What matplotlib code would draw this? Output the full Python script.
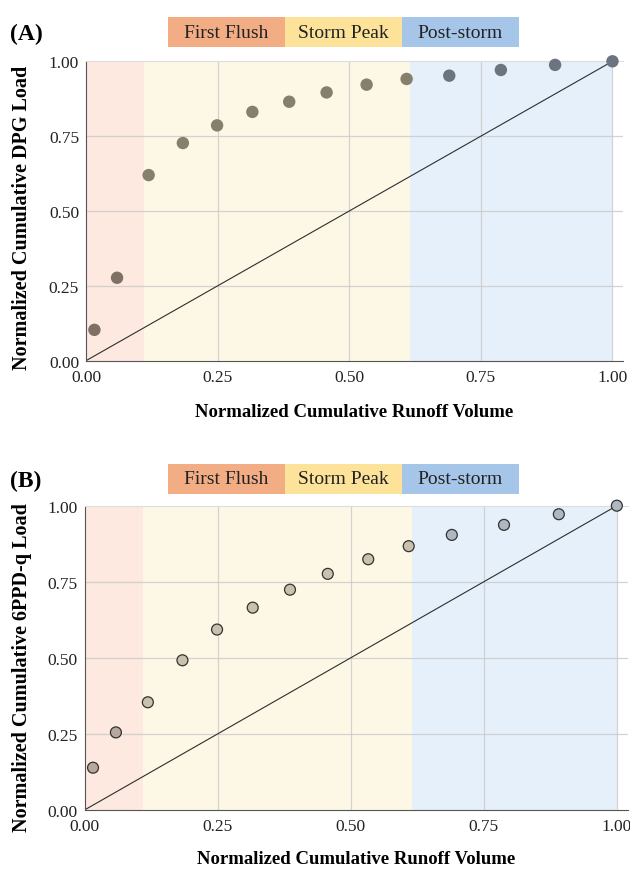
import matplotlib
matplotlib.use("Agg")
import matplotlib.pyplot as plt
from matplotlib.patches import Rectangle

plt.rcParams['font.family'] = ['Liberation Serif', 'DejaVu Serif']

# ---- data ----
runoff = [0.016, 0.059, 0.119, 0.184, 0.249, 0.316, 0.386, 0.457, 0.533, 0.609, 0.690, 0.788, 0.891, 1.0]
dpg_load = [0.103, 0.277, 0.620, 0.727, 0.786, 0.831, 0.865, 0.896, 0.922, 0.941, 0.952, 0.971, 0.988, 1.0]
ppdq_load = [0.139, 0.255, 0.354, 0.492, 0.593, 0.665, 0.724, 0.776, 0.824, 0.867, 0.904, 0.937, 0.972, 1.0]
phase_names = ["First Flush", "Storm Peak", "Post-storm"]
phase_bounds = [0.0, 0.11, 0.615, 1.0]
ticks = [0.0, 0.25, 0.50, 0.75, 1.00]
tick_labels = ["0.00", "0.25", "0.50", "0.75", "1.00"]

# ---- styles ----
bg_colors = ["#fde9e0", "#fdf7e6", "#e6f0fa"]
legend_colors = ["#f2ad85", "#fde39a", "#a5c6e8"]
ptA_colors = ["#7f7066", "#857f6b", "#6b7480"]
ptB_colors = ["#b7a89e", "#c7c1ad", "#afb7c0"]

fig = plt.figure(figsize=(6.3, 8.7), dpi=100)

def phase_index(x):
    for i in range(3):
        if phase_bounds[i] <= x < phase_bounds[i + 1]:
            return i
    return 2

def panel(rect, loads, pcolors, edge, ylabel, tag, legend_y, label_pad_x, ylab_xy):
    ax = fig.add_axes(rect)
    ax.set_xlim(0, 1.02)
    ax.set_ylim(0, 1.0)
    for i in range(3):
        ax.axvspan(phase_bounds[i], phase_bounds[i + 1], color=bg_colors[i], lw=0, zorder=0)
    for t in ticks[1:]:
        ax.axvline(t, color="#c9c9c9", lw=0.9, alpha=0.8, zorder=1)
    for t in ticks[1:-1]:
        ax.axhline(t, color="#c9c9c9", lw=0.9, alpha=0.8, zorder=1)
    ax.plot([0, 1], [0, 1], color="#2e2e2e", lw=0.8, zorder=2)
    cols = [pcolors[phase_index(x)] for x in runoff]
    if edge:
        ax.scatter(runoff, loads, s=62, c=cols, edgecolors="#333333", linewidths=0.9, zorder=3, clip_on=False)
    else:
        ax.scatter(runoff, loads, s=80, c=cols, edgecolors="none", zorder=3, clip_on=False)
    ax.set_xticks(ticks)
    ax.set_xticklabels(tick_labels)
    ax.set_yticks(ticks)
    ax.set_yticklabels(tick_labels)
    ax.tick_params(length=0, labelsize=12.5, colors="#222222")
    ax.tick_params(axis="x", pad=6)
    ax.tick_params(axis="y", pad=5)
    ax.spines["right"].set_visible(False)
    ax.spines["top"].set_color("#dddddd")
    ax.spines["left"].set_color("#555555")
    ax.spines["bottom"].set_color("#555555")
    ax.set_xlabel("Normalized Cumulative Runoff Volume", fontsize=13.5, fontweight="bold", labelpad=label_pad_x)
    ax.set_ylabel(ylabel, fontsize=14.5, fontweight="bold")
    ax.yaxis.set_label_coords(*ylab_xy)
    # legend boxes
    x0 = 168 / 630
    w = 117 / 630
    h = 30 / 870
    for i in range(3):
        fig.patches.append(Rectangle((x0 + i * w, legend_y), w, h, transform=fig.transFigure,
                                     facecolor=legend_colors[i], edgecolor="none"))
        fig.text(x0 + i * w + w / 2, legend_y + h / 2, phase_names[i], ha="center", va="center",
                 fontsize=14, color="#222222")
    fig.text(10 / 630, legend_y + h / 2 - 0.002, tag, fontsize=17, fontweight="bold", ha="left", va="center")
    return ax

panel([86 / 630, 1 - 361.7 / 870, 537 / 630, 299.4 / 870], dpg_load, ptA_colors, False,
      "Normalized Cumulative DPG Load", "(A)", 1 - 48 / 870, 13, (-0.100, 0.48))
panel([84.5 / 630, 1 - 811 / 870, 543 / 630, 304.3 / 870], ppdq_load, ptB_colors, True,
      "Normalized Cumulative 6PPD-q Load", "(B)", 1 - 495 / 870, 11, (-0.0965, 0.473))

fig.savefig("out.png", dpi=100)
